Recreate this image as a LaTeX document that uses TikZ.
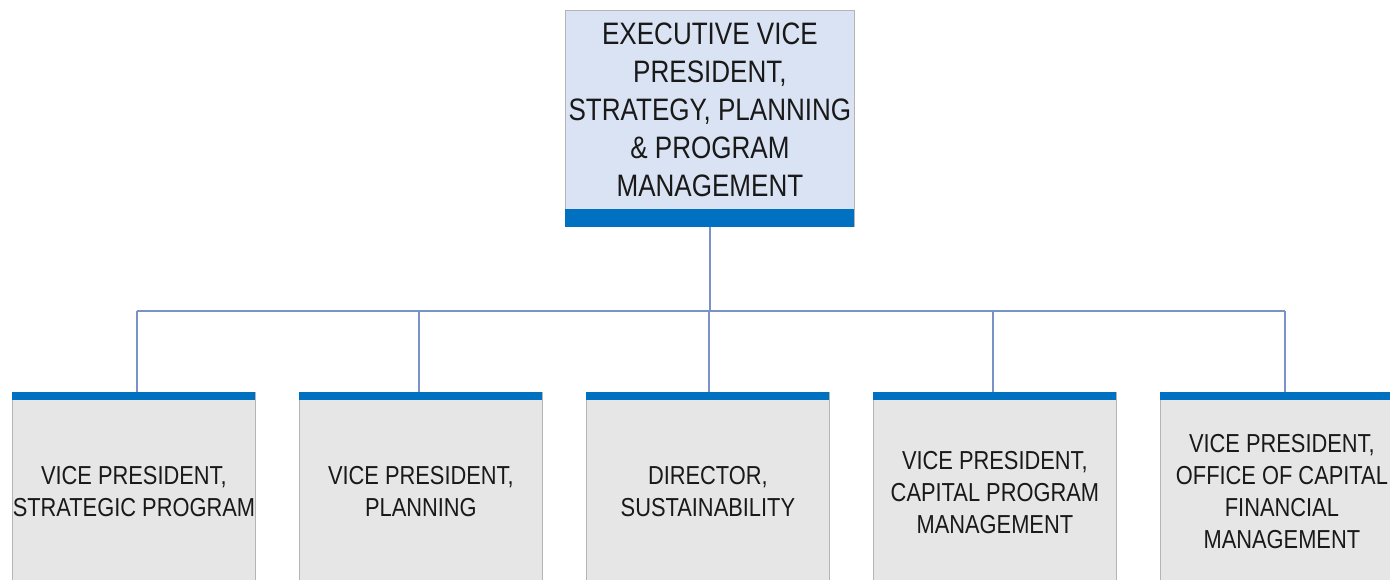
\documentclass[tikz,border=0pt]{standalone}
\usepackage{fontspec}
\setmainfont{Liberation Sans}[FakeStretch=0.84]
\definecolor{topfill}{HTML}{DAE3F3}
\definecolor{botfill}{HTML}{E7E6E6}
\definecolor{barblue}{HTML}{0070C0}
\definecolor{linec}{HTML}{7A92C8}
\definecolor{edgec}{HTML}{B4B4B4}
\begin{document}
\begin{tikzpicture}[x=1pt,y=-1pt,
  topbox/.style={draw=edgec,line width=0.8pt,fill=topfill,minimum width=289pt,minimum height=216pt,anchor=north west,inner sep=0pt},
  botbox/.style={draw=edgec,line width=0.8pt,fill=botfill,minimum width=243pt,minimum height=195pt,anchor=north west,inner sep=0pt},
  conn/.style={draw=linec,line width=1.3pt},
  toptext/.style={align=center,font=\fontsize{31}{38}\selectfont,text=black!90},
  bottext/.style={align=center,font=\fontsize{26}{32}\selectfont,text=black!90}]
\useasboundingbox (0,0) rectangle (1390,579);
% top box
\node[topbox] (evp) at (565,10) {};
\fill[barblue] (evp.south west) rectangle ++(289,-18);
\node[toptext] (evpt) at (evp.center |- 0,110) {EXECUTIVE VICE\\PRESIDENT,\\STRATEGY, PLANNING\\\& PROGRAM\\MANAGEMENT};
% bottom boxes
\node[botbox] (c1) at (12,392) {};
\node[botbox] (c2) at (299,392) {};
\node[botbox] (c3) at (586,392) {};
\node[botbox] (c4) at (873,392) {};
\node[botbox] (c5) at (1160,392) {};
\foreach \c in {c1,c2,c3,c4,c5}{
  \fill[barblue] (\c.north west) rectangle ++(243,8);
}
\node[bottext] (t1) at (c1.center |- 0,492) {VICE PRESIDENT,\\STRATEGIC PROGRAM};
\node[bottext] (t2) at (c2.center |- 0,492) {VICE PRESIDENT,\\PLANNING};
\node[bottext] (t3) at (c3.center |- 0,492) {DIRECTOR,\\SUSTAINABILITY};
\node[bottext] (t4) at (c4.center |- 0,493) {VICE PRESIDENT,\\CAPITAL PROGRAM\\MANAGEMENT};
\node[bottext] (t5) at (c5.center |- 0,492) {VICE PRESIDENT,\\OFFICE OF CAPITAL\\FINANCIAL\\MANAGEMENT};
% connectors
\coordinate (a1) at ([xshift=3]c1.north);
\coordinate (a2) at ([xshift=-2]c2.north);
\coordinate (a3) at ([xshift=1]c3.north);
\coordinate (a4) at ([xshift=-2]c4.north);
\coordinate (a5) at ([xshift=3]c5.north);
\coordinate (hl) at (a1 |- 0,311);
\coordinate (hr) at (a5 |- 0,311);
\draw[conn] (evp.south) -- (evp.south |- hl);
\draw[conn] (hl) -- (hr);
\foreach \a in {a1,a2,a3,a4,a5}{
  \draw[conn] (\a |- hl) -- (\a);
}
\end{tikzpicture}
\end{document}
